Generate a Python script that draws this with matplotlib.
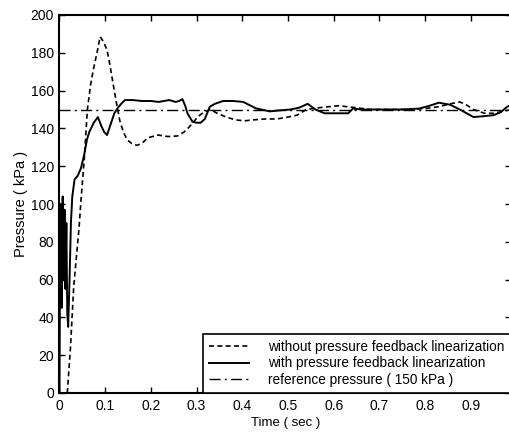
import matplotlib
matplotlib.use("Agg")
import matplotlib.pyplot as plt

# without pressure feedback linearization (dashed)
t_without = [0.017, 0.024, 0.031, 0.043, 0.047, 0.054, 0.061, 0.068, 0.074, 0.082,
             0.089, 0.096, 0.104, 0.110, 0.117, 0.125, 0.132, 0.140, 0.148, 0.158,
             0.170, 0.182, 0.193, 0.215, 0.237, 0.258, 0.272, 0.281, 0.292, 0.302,
             0.315, 0.330, 0.345, 0.365, 0.385, 0.405, 0.424, 0.450, 0.476, 0.500,
             0.520, 0.540, 0.570, 0.610, 0.647, 0.680, 0.720, 0.760, 0.800, 0.830,
             0.855, 0.876, 0.890, 0.906, 0.930, 0.950, 0.970, 0.988]
p_without = [0, 24, 56, 88, 102, 123, 150, 163, 171, 180,
             188.5, 186, 181.5, 174, 164, 153, 144, 138, 134, 132,
             131, 132.5, 135, 136.5, 135.7, 136, 138, 140, 143, 146,
             148.5, 150, 148, 146, 144.5, 144, 144.5, 145, 145, 146,
             147, 150, 151, 152, 151, 150, 150, 150, 150.5, 151.5,
             153, 154, 152.5, 150, 148, 148, 149, 150]

# with pressure feedback linearization (solid)
t_with = [0, 0.001, 0.003, 0.005, 0.007, 0.009, 0.011, 0.013, 0.015, 0.017,
          0.019, 0.022, 0.025, 0.028, 0.033, 0.040, 0.047, 0.054, 0.060, 0.065,
          0.075, 0.084, 0.092, 0.098, 0.104, 0.113, 0.120, 0.128, 0.135, 0.143,
          0.160, 0.180, 0.200, 0.217, 0.240, 0.254, 0.262, 0.269, 0.275, 0.280,
          0.291, 0.300, 0.309, 0.318, 0.329, 0.340, 0.358, 0.380, 0.402, 0.430,
          0.460, 0.480, 0.506, 0.525, 0.543, 0.560, 0.580, 0.600, 0.632, 0.642,
          0.660, 0.700, 0.750, 0.787, 0.810, 0.830, 0.855, 0.876, 0.906, 0.930,
          0.950, 0.965, 0.980, 0.988]
p_with = [0, 60, 100, 45, 104, 60, 97, 55, 90, 42,
          35, 60, 90, 104, 113, 115, 119, 126, 134, 138,
          143, 146, 141, 138, 136.5, 143, 148, 151, 153, 155,
          155, 154.5, 154.5, 154, 155, 154, 154.5, 155.5, 152, 148,
          143.5, 143, 143, 145, 151.5, 153, 154.5, 154.5, 154, 150.6,
          149, 149.5, 150, 151, 153, 150, 148, 148, 148, 150.5,
          150, 150, 150, 150.5, 152, 153.6, 152.5, 150, 146, 146.5,
          147, 148.5, 151.5, 152.5]

ref_pressure = 150
t_range = [0, 0.988]

labels = ["without pressure feedback linearization",
          "with pressure feedback linearization",
          "reference pressure ( 150 kPa )"]

plt.rcParams['font.family'] = ['Liberation Sans', 'DejaVu Sans']

fig = plt.figure(figsize=(5.1, 4.34), dpi=100)
ax = fig.add_axes([59.5 / 510, 41 / 434, (511 - 59.5) / 510, 378 / 434])

ax.plot(t_without, p_without, color='black', lw=1.2, ls=(0, (3, 2)), label=labels[0])
ax.plot(t_with, p_with, color='black', lw=1.4, ls='-', label=labels[1])
ax.plot(t_range, [ref_pressure, ref_pressure], color='black', lw=1.0,
        ls=(0, (8, 3, 1.5, 3)), label=labels[2])

ax.set_xlim(t_range)
ax.set_ylim(0, 200)
ax.set_xticks([0, 0.1, 0.2, 0.3, 0.4, 0.5, 0.6, 0.7, 0.8, 0.9])
ax.set_xticklabels(["0", "0.1", "0.2", "0.3", "0.4", "0.5", "0.6", "0.7", "0.8", "0.9"])
ax.set_yticks(range(0, 201, 20))
ax.tick_params(direction='in', length=4, width=1, top=True, right=True,
               labelsize=10, pad=4)
for s in ax.spines.values():
    s.set_linewidth(1.5)

ax.set_xlabel("Time ( sec )", fontsize=9.5, labelpad=3)
ax.set_ylabel("Pressure ( kPa )", fontsize=10.5, labelpad=2)

leg = ax.legend(loc='lower right', borderaxespad=0, fancybox=False, framealpha=1,
                edgecolor='black', fontsize=9.8, handlelength=2.9, handletextpad=1.45,
                labelspacing=0.18, borderpad=0.45)
leg.get_frame().set_linewidth(1.2)

fig.savefig("out.png", dpi=100)
